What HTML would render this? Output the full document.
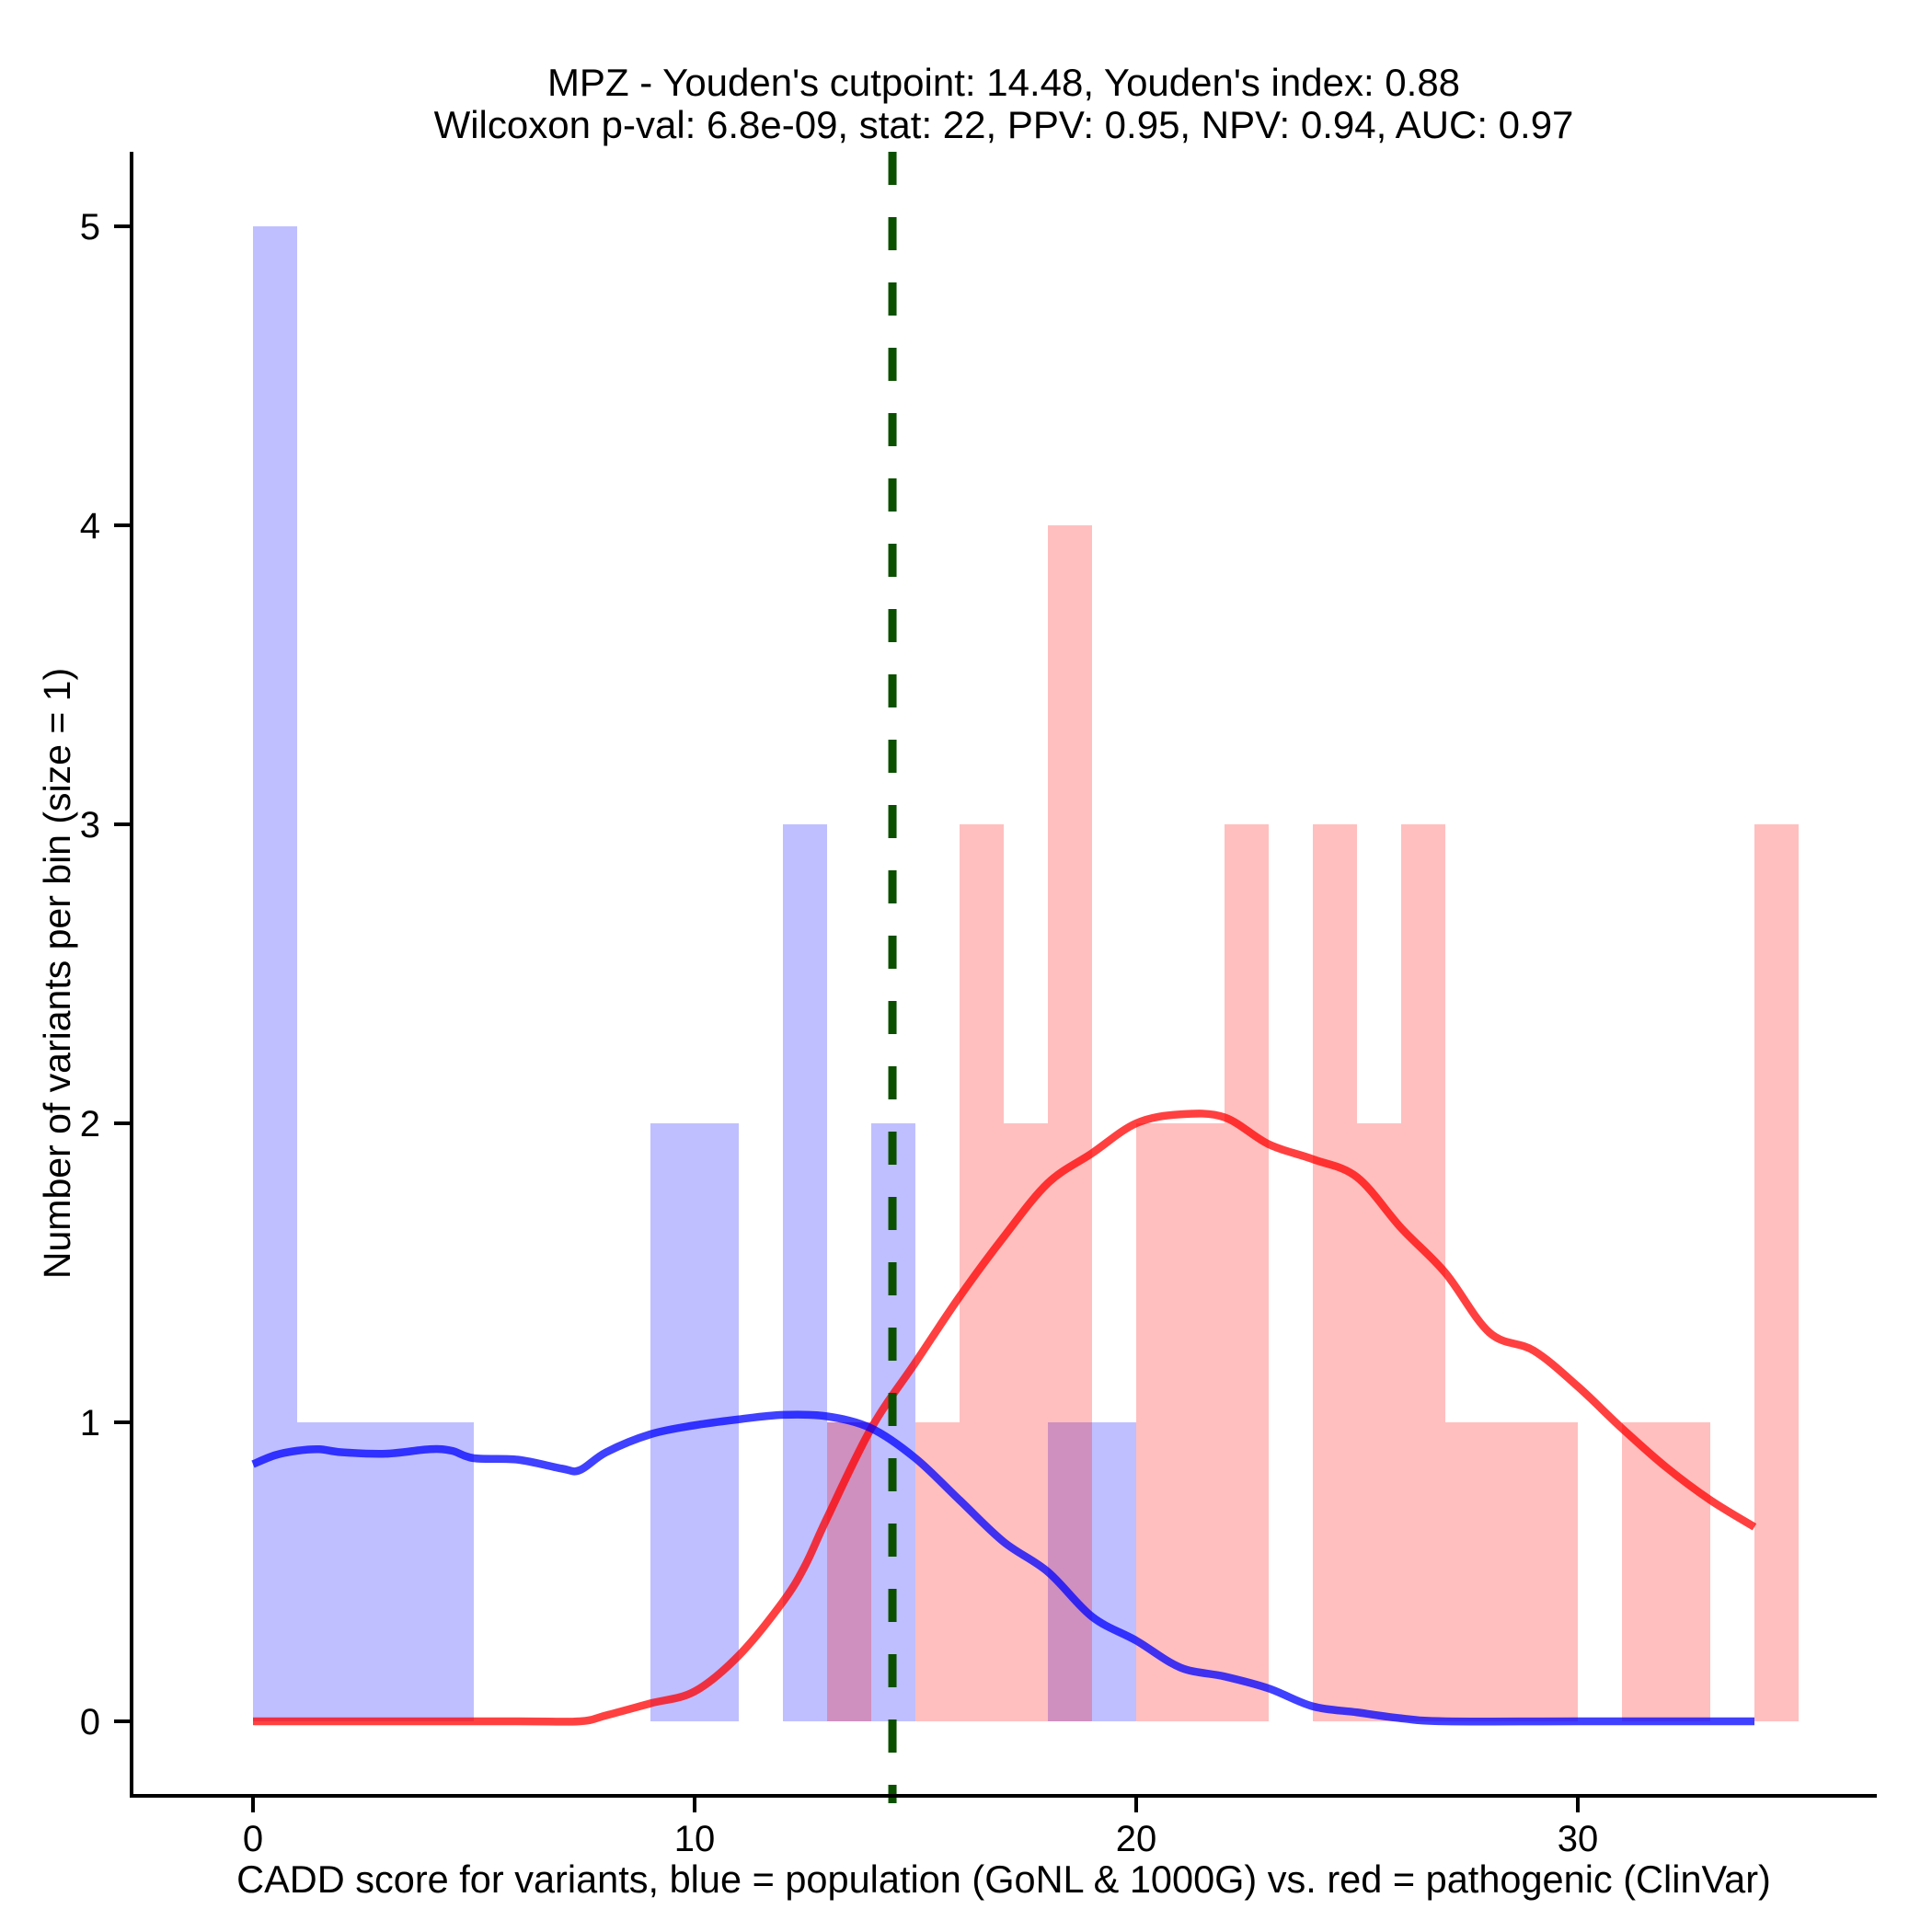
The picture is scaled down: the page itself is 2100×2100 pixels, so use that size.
<!DOCTYPE html>
<html><head><meta charset="utf-8"><style>
html,body{margin:0;padding:0;background:#fff;}
svg{display:block;font-family:"Liberation Sans",Arial,sans-serif;}
</style></head><body>
<svg id="chart" width="2100" height="2100" viewBox="0 0 2100 2100">
<text x="1091" y="104" font-size="42" text-anchor="middle">MPZ - Youden's cutpoint: 14.48, Youden's index: 0.88</text>
<text x="1091" y="150" font-size="42" text-anchor="middle">Wilcoxon p-val: 6.8e-09, stat: 22, PPV: 0.95, NPV: 0.94, AUC: 0.97</text>
<g id="bars"></g>
<g id="curves"></g>
<g id="axes"></g>
<text x="0" y="0" font-size="41" text-anchor="middle" transform="translate(76,1058) rotate(-90)">Number of variants per bin (size = 1)</text>
<text x="1091" y="2057" font-size="41.5" text-anchor="middle">CADD score for variants, blue = population (GoNL &amp; 1000G) vs. red = pathogenic (ClinVar)</text>
</svg>
<script>
const blueBins = [0,1,2,3,4,9,10,12,13,14,18,19];
const blueCounts = [5,1,1,1,1,2,2,3,1,2,1,1];
const redBins = [13,15,16,17,18,20,21,22,24,25,26,27,28,29,31,32,34];
const redCounts = [1,1,3,2,4,2,2,3,3,2,3,1,1,1,1,1,3];
const blueX = [0,0.5,1,1.5,2,3,4,4.5,5,6,7,7.4,8,9,10,11,12,13,14,15,16,17,18,19,20,21,22,23,24,25,26,27,30,34];
const blueY = [0.86,0.89,0.905,0.91,0.9,0.895,0.91,0.905,0.88,0.875,0.845,0.84,0.9,0.96,0.99,1.01,1.025,1.02,0.98,0.88,0.74,0.6,0.5,0.35,0.27,0.18,0.15,0.11,0.05,0.03,0.01,0,0,0];
const redX = [0,3,6,7.4,8,9,10,11,12,12.5,13,14,15,16,17,18,19,20,21,22,23,24,25,26,27,28,29,30,31,32,33,34];
const redY = [0,0,0,0,0.02,0.06,0.1,0.22,0.4,0.52,0.68,0.98,1.2,1.42,1.62,1.8,1.9,2.0,2.03,2.02,1.93,1.88,1.82,1.65,1.5,1.3,1.24,1.12,0.98,0.85,0.74,0.65];
const xTicks = [0,10,20,30];
const yTicks = [0,1,2,3,4,5];
const cutpoint = 14.48;

const NS='http://www.w3.org/2000/svg';
const X0=275, XU=48, Y0=1871, YU=325;
const sx=v=>X0+v*XU, sy=v=>Y0-v*YU;
function mk(tag,attrs,parent){const e=document.createElementNS(NS,tag);for(const k in attrs)e.setAttribute(k,attrs[k]);parent.appendChild(e);return e;}
const bars=document.getElementById('bars'), curves=document.getElementById('curves'), axes=document.getElementById('axes');
blueBins.forEach((b,i)=>{
  const r=mk('rect',{x:sx(b),y:sy(blueCounts[i]),width:XU,height:blueCounts[i]*YU,fill:'rgba(0,0,255,0.25)'},bars);
  
  
});
redBins.forEach((b,i)=>{
  const r=mk('rect',{x:sx(b),y:sy(redCounts[i]),width:XU,height:redCounts[i]*YU,fill:'rgba(255,0,0,0.25)'},bars);
  
  
});
function smoothPath(xs,ys){
  const p=xs.map((x,i)=>[sx(x),sy(ys[i])]);
  let d='M'+p[0][0]+','+p[0][1];
  for(let i=0;i<p.length-1;i++){
    const p0=p[Math.max(i-1,0)],p1=p[i],p2=p[i+1],p3=p[Math.min(i+2,p.length-1)];
    const c1=[p1[0]+(p2[0]-p0[0])/6,p1[1]+(p2[1]-p0[1])/6];
    const c2=[p2[0]-(p3[0]-p1[0])/6,p2[1]-(p3[1]-p1[1])/6];
    d+=' C'+c1[0]+','+c1[1]+' '+c2[0]+','+c2[1]+' '+p2[0]+','+p2[1];
  }
  return d;
}
const rl=mk('path',{d:smoothPath(redX,redY),fill:'none',stroke:'rgba(255,0,0,0.75)','stroke-width':8.5},curves);


const bl=mk('path',{d:smoothPath(blueX,blueY),fill:'none',stroke:'rgba(0,0,255,0.75)','stroke-width':8.5},curves);


const cl=mk('line',{x1:sx(cutpoint),x2:sx(cutpoint),y1:165,y2:1960,stroke:'#0a5000','stroke-width':9,'stroke-dasharray':'36 35'},curves);


const ya=mk('line',{x1:143,x2:143,y1:165,y2:1954,stroke:'#000','stroke-width':4},axes);


const xa=mk('line',{x1:141,x2:2040,y1:1952,y2:1952,stroke:'#000','stroke-width':4},axes);


yTicks.forEach(t=>{
  const tk=mk('line',{x1:124,x2:143,y1:sy(t),y2:sy(t),stroke:'#000','stroke-width':4},axes);
  
  
  const lb=mk('text',{x:109,y:sy(t)+14,'font-size':40,'text-anchor':'end'},axes);
  lb.textContent=t;
  
  
});
xTicks.forEach(t=>{
  const tk=mk('line',{x1:sx(t),x2:sx(t),y1:1952,y2:1970,stroke:'#000','stroke-width':4},axes);
  
  
  const lb=mk('text',{x:sx(t),y:2012,'font-size':40,'text-anchor':'middle'},axes);
  lb.textContent=t;
  
  
});
</script>
</body></html>
